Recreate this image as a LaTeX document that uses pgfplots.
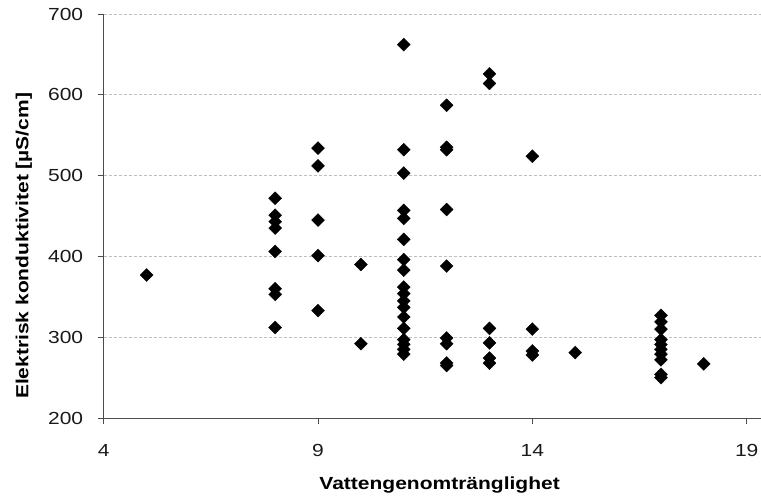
\documentclass[border=0pt]{standalone}
\usepackage{fontspec}
\setmainfont{Liberation Sans}[FakeStretch=1.2]
\usepackage{pgfplots}
\pgfplotsset{compat=1.18}
\begin{document}
\begin{tikzpicture}[x=1pt,y=1pt]
\useasboundingbox (-103.7,-80) rectangle (657.3,418);
\begin{axis}[
  at={(0,0)}, anchor=south west,
  scale only axis, width=657.3pt, height=404pt,
  xmin=4, xmax=19.334, ymin=200, ymax=700,
  xtick={4,9,14,19}, ytick={200,300,...,700},
  axis x line*=bottom, axis y line*=left,
  axis line style={-, draw=black!70, line width=0.8pt},
  tick align=outside, major tick length=6pt,
  tick style={draw=black!70, line width=0.8pt},
  ymajorgrids, major grid style={dash pattern=on 3pt off 2pt, draw=black!25, line width=0.8pt},
  /pgf/number format/assume math mode=true,
  tick label style={font=\fontsize{17.5}{21}\selectfont, text=black!90},
  xticklabel style={yshift=-17pt},
  yticklabel style={xshift=-11pt},
  xlabel={Vattengenomtränglighet},
  ylabel={Elektrisk konduktivitet [µS/cm]},
  every axis x label/.style={at={(axis description cs:0.511,-0.1658)}, anchor=center,
    font=\bfseries\fontsize{17.5}{21}\selectfont},
  every axis y label/.style={at={(axis description cs:-0.1213,0.426)}, rotate=90, anchor=center,
    font=\bfseries\fontsize{17.5}{21}\selectfont},
]
\addplot[only marks, mark=square*, mark size=4.6pt,
  mark options={rotate=45, fill=black, draw=black, line width=0.3pt}]
  table[row sep=\\] {
  x y\\
  5 377\\
  8 472\\ 8 451\\ 8 443\\ 8 435\\ 8 406\\ 8 360\\ 8 353\\ 8 312\\
  9 534\\ 9 512\\ 9 445\\ 9 401\\ 9 333\\
  10 390\\ 10 292\\
  11 662\\ 11 532\\ 11 503\\ 11 457\\ 11 447\\ 11 421\\ 11 396\\ 11 383\\ 11 362\\
  11 354\\ 11 345\\ 11 337\\ 11 325\\ 11 311\\ 11 297\\ 11 291\\ 11 285\\ 11 279\\
  12 587\\ 12 535\\ 12 532\\ 12 458\\ 12 388\\ 12 299\\ 12 292\\ 12 268\\ 12 265\\
  13 626\\ 13 614\\ 13 311\\ 13 293\\ 13 274\\ 13 268\\
  14 524\\ 14 310\\ 14 283\\ 14 278\\
  15 281\\
  17 327\\ 17 319\\ 17 310\\ 17 297\\ 17 291\\ 17 285\\ 17 279\\ 17 272\\ 17 254\\ 17 250\\
  18 267\\
  };
\end{axis}
\end{tikzpicture}
\end{document}
